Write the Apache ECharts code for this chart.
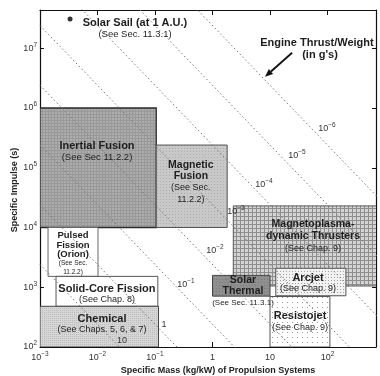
<!DOCTYPE html>
<html>
<head>
<meta charset="utf-8">
<title>Specific Impulse vs Specific Mass of Propulsion Systems</title>
<script src="https://cdn.jsdelivr.net/npm/echarts@6.0.0/dist/echarts.min.js"></script>
<style>
  html, body { margin: 0; padding: 0; background: #fff; }
  #chart { width: 380px; height: 376px; }
</style>
</head>
<body>
<div id="chart"></div>
<script>
// ---- Axis ranges and tick exponents ----
const massRange = [1e-3, 697];          // kg/kW
const ispRange = [1e2, 4.37e7];         // s
const massTickExponents = [-3, -2, -1, 0, 1, 2];
const ispTickExponents = [2, 3, 4, 5, 6, 7];

// ---- Propulsion system regions ----
const regionNames = ['Inertial Fusion', 'Magnetic Fusion', 'MPD Thrusters', 'Solar Thermal',
  'Arcjet', 'Resistojet', 'Pulsed Fission', 'Solid-Core Fission', 'Chemical'];
const regionMassLow  = [1e-3, 0.105, 2.3, 1.0, 12.6, 10, 1.38e-3, 1.9e-3, 1e-3];
const regionMassHigh = [0.105, 1.8, 1000, 10, 209, 110, 0.0102, 0.112, 0.115];
const regionIspLow   = [1e4, 1e4, 1050, 710, 720, 100, 1520, 480, 100];
const regionIspHigh  = [1e6, 2.4e5, 2.3e4, 1580, 2080, 700, 1e4, 1520, 480];

// ---- Solar sail point ----
const solarSail = [3.33e-3, 3.1e7];

// ---- Engine thrust/weight guide lines (g's): Isp at mass 1e-3 and at 1e3 kg/kW ----
const guideExponents = [1, 0, -1, -2, -3, -4, -5, -6];
const guideIspAtMassMin = [2.4e3, 2.4e4, 2.4e5, 2.4e6, 2.4e7, 2.4e8, 2.4e9, 2.4e10];
const guideIspAtMassMax = [2.4e-3, 2.4e-2, 2.4e-1, 2.4e0, 2.4e1, 2.4e2, 2.4e3, 2.4e4];
const guideLabelMass = [0.0267, 0.1436, 0.346, 1.10, 2.56, 7.87, 29.5, 97.7];
const guideLabelIsp  = [126, 234, 1095, 4050, 1.82e4, 5.17e4, 1.58e5, 4.47e5];

// ---- Arrow pointing at the thrust/weight lines ----
const arrowFrom = [24.2, 8.4e6];
const arrowTo = [8.18, 3.33e6];

// ---- Text annotations ----
const annoText = [
  'Solar Sail (at 1 A.U.)', '(See Sec. 11.3.1)',
  'Engine Thrust/Weight', "(in g's)",
  'Inertial Fusion', '(See Sec 11.2.2)',
  'Magnetic', 'Fusion', '(See Sec.', '11.2.2)',
  'Magnetoplasma-', 'dynamic Thrusters', '(See Chap. 9)',
  'Solar', 'Thermal', '(See Sec. 11.3.1)',
  'Arcjet', '(See Chap. 9)',
  'Resistojet', '(See Chap. 9)',
  'Pulsed', 'Fission', '(Orion)', '(See Sec.', '11.2.2)',
  'Solid-Core Fission', '(See Chap. 8)',
  'Chemical', '(See Chaps. 5, 6, & 7)'
];
const annoMass = [
  0.0449, 0.0449,
  65.6, 74,
  9.8e-3, 9.8e-3,
  0.42, 0.42, 0.42, 0.42,
  56, 56, 56,
  3.39, 3.39, 3.39,
  45.8, 45.8,
  33.3, 33.3,
  3.75e-3, 3.75e-3, 3.75e-3, 3.75e-3, 3.75e-3,
  0.0146, 0.0146,
  0.012, 0.012
];
const annoIsp = [
  2.67e7, 1.68e7,
  1.24e7, 7.8e6,
  2.33e5, 1.47e5,
  1.12e5, 7.3e4, 4.6e4, 2.9e4,
  1.15e4, 7230, 4380,
  1325, 867, 546,
  1430, 937,
  330, 216,
  7520, 5120, 3610, 2550, 1800,
  937, 613,
  294, 193
];
const annoKind = [
  'title', 'ref10',
  'title', 'title',
  'title', 'ref10',
  'name', 'name', 'ref', 'ref',
  'name', 'name', 'ref',
  'name', 'name', 'ref8',
  'title', 'ref',
  'title', 'ref',
  'small-bold', 'small-bold', 'small-bold', 'tiny', 'tiny',
  'title', 'ref',
  'title', 'ref'
];

// ---- Styling ----
const FONT = '"Liberation Sans", Arial, Helvetica, sans-serif';
const textFonts = {
  'title': 'bold 11px ' + FONT,
  'name': 'bold 10.5px ' + FONT,
  'small-bold': 'bold 9.5px ' + FONT,
  'ref': '9px ' + FONT,
  'ref10': '9.5px ' + FONT,
  'ref8': '8px ' + FONT,
  'tiny': '6.5px ' + FONT
};

function makePattern(size, bg, draw) {
  const c = document.createElement('canvas');
  c.width = size; c.height = size;
  const ctx = c.getContext('2d');
  ctx.fillStyle = bg;
  ctx.fillRect(0, 0, size, size);
  draw(ctx);
  return { image: c, repeat: 'repeat' };
}

const regionStyles = {
  'Inertial Fusion': { fill: makePattern(3, '#acacac', ctx => { ctx.fillStyle = '#999999'; ctx.fillRect(0, 0, 3, 1); ctx.fillRect(0, 0, 1, 3); }), stroke: '#2a2a2a', lineWidth: 1.3 },
  'Magnetic Fusion': { fill: makePattern(3, '#c8c8c8', ctx => { ctx.fillStyle = '#adadad'; ctx.fillRect(1, 1, 1, 1); }), stroke: '#555', lineWidth: 1 },
  'MPD Thrusters': { fill: makePattern(4, '#d4d4d4', ctx => { ctx.fillStyle = '#8e8e8e'; ctx.fillRect(0, 0, 4, 1); ctx.fillRect(0, 0, 1, 4); }), stroke: '#555', lineWidth: 1 },
  'Solar Thermal': { fill: makePattern(3, '#8f8f8f', ctx => { ctx.fillStyle = '#7a7a7a'; ctx.fillRect(0, 0, 1, 1); }), stroke: '#444', lineWidth: 1 },
  'Arcjet': { fill: makePattern(3, '#f2f2f2', ctx => { ctx.fillStyle = '#a0a0a0'; ctx.fillRect(1, 1, 1, 1); }), stroke: '#555', lineWidth: 1 },
  'Resistojet': { fill: makePattern(5, '#ffffff', ctx => { ctx.fillStyle = '#9a9a9a'; ctx.fillRect(2, 2, 1, 1); }), stroke: '#555', lineWidth: 1 },
  'Pulsed Fission': { fill: '#ffffff', stroke: '#666', lineWidth: 1 },
  'Solid-Core Fission': { fill: '#ffffff', stroke: '#555', lineWidth: 1 },
  'Chemical': { fill: makePattern(2, '#d6d6d6', ctx => { ctx.fillStyle = '#bcbcbc'; ctx.fillRect(0, 0, 1, 1); }), stroke: '#444', lineWidth: 1 }
};

function supText(e) {
  return e < 0 ? '\u2212' + (-e) : String(e);
}
function powerLabel(e) {
  if (e === 0) return '{b|1}';
  if (e === 1) return '{b|10}';
  return '{b|10}{s|' + supText(e) + '}';
}
function tickFormatter(allowed, plainSmall) {
  return function (v) {
    const lg = Math.log10(v);
    const e = Math.round(lg);
    if (Math.abs(lg - e) > 1e-6 || allowed.indexOf(e) < 0) return '';
    if (!plainSmall) return '{b|10}{s|' + supText(e) + '}';
    return powerLabel(e);
  };
}
const tickRich = {
  b: { fontSize: 9, fontFamily: FONT, color: '#333', lineHeight: 14 },
  s: { fontSize: 6.5, fontFamily: FONT, color: '#333', lineHeight: 7, verticalAlign: 'top' }
};

const axisLineStyle = { color: '#111', width: 1.2 };

// ---- Series ----
const series = [];

// regions
series.push({
  type: 'custom',
  name: 'regions',
  xAxisIndex: 0, yAxisIndex: 0,
  clip: true,
  silent: true,
  z: 2,
  data: regionNames.map((n, i) => [regionMassLow[i], regionIspLow[i], regionMassHigh[i], regionIspHigh[i]]),
  renderItem: function (params, api) {
    const i = params.dataIndex;
    const p0 = api.coord([api.value(0), api.value(3)]);
    const p1 = api.coord([api.value(2), api.value(1)]);
    const st = regionStyles[regionNames[i]];
    return {
      type: 'rect',
      shape: { x: p0[0], y: p0[1], width: p1[0] - p0[0], height: p1[1] - p0[1] },
      style: { fill: st.fill, stroke: st.stroke, lineWidth: st.lineWidth }
    };
  }
});

// thrust/weight guide lines
guideExponents.forEach((e, i) => {
  series.push({
    type: 'line',
    xAxisIndex: 0, yAxisIndex: 0,
    data: [[1e-3, guideIspAtMassMin[i]], [1e3, guideIspAtMassMax[i]]],
    symbol: 'none',
    silent: true,
    clip: true,
    z: 3,
    lineStyle: { color: '#777', width: 1, type: [1.5, 2.5] },
    animation: false
  });
});

// guide line labels
series.push({
  type: 'custom',
  xAxisIndex: 0, yAxisIndex: 0,
  silent: true,
  z: 5,
  data: guideExponents.map((e, i) => [guideLabelMass[i], guideLabelIsp[i]]),
  renderItem: function (params, api) {
    const p = api.coord([api.value(0), api.value(1)]);
    return {
      type: 'text', x: p[0], y: p[1],
      style: {
        text: powerLabel(guideExponents[params.dataIndex]),
        align: 'center', verticalAlign: 'middle',
        rich: {
          b: { fontSize: 9, fontFamily: FONT, fill: '#333', lineHeight: 14 },
          s: { fontSize: 6.5, fontFamily: FONT, fill: '#333', lineHeight: 7, verticalAlign: 'top' }
        }
      }
    };
  }
});

// solar sail point
series.push({
  type: 'scatter',
  xAxisIndex: 0, yAxisIndex: 0,
  data: [solarSail],
  symbol: 'circle',
  symbolSize: 5,
  itemStyle: { color: '#000' },
  silent: true,
  z: 6
});

// text annotations
series.push({
  type: 'custom',
  xAxisIndex: 0, yAxisIndex: 0,
  silent: true,
  z: 6,
  data: annoText.map((t, i) => [annoMass[i], annoIsp[i]]),
  renderItem: function (params, api) {
    const i = params.dataIndex;
    const p = api.coord([api.value(0), api.value(1)]);
    return {
      type: 'text', x: p[0], y: p[1],
      style: {
        text: annoText[i],
        font: textFonts[annoKind[i]],
        fill: '#1e1e1e',
        align: 'center', verticalAlign: 'middle'
      }
    };
  }
});

// arrow
series.push({
  type: 'custom',
  xAxisIndex: 0, yAxisIndex: 0,
  silent: true,
  z: 6,
  data: [[arrowFrom[0], arrowFrom[1], arrowTo[0], arrowTo[1]]],
  renderItem: function (params, api) {
    const a = api.coord([api.value(0), api.value(1)]);
    const b = api.coord([api.value(2), api.value(3)]);
    const ang = Math.atan2(b[1] - a[1], b[0] - a[0]);
    const len = 8, half = 3.2;
    const bx = b[0] - len * Math.cos(ang), by = b[1] - len * Math.sin(ang);
    const nx = -Math.sin(ang) * half, ny = Math.cos(ang) * half;
    return {
      type: 'group',
      children: [
        { type: 'line', shape: { x1: a[0], y1: a[1], x2: bx, y2: by }, style: { stroke: '#111', lineWidth: 1.8 } },
        { type: 'polygon', shape: { points: [[b[0], b[1]], [bx + nx, by + ny], [bx - nx, by - ny]] }, style: { fill: '#111' } }
      ]
    };
  }
});

const option = {
  animation: false,
  backgroundColor: '#ffffff',
  grid: { left: 40, right: 4, top: 10, bottom: 29, containLabel: false },
  xAxis: [
    {
      type: 'log', logBase: 10, min: massRange[0], max: massRange[1], position: 'bottom', splitNumber: 6,
      axisLine: { show: true, lineStyle: axisLineStyle },
      axisTick: { show: true, inside: true, length: 5, lineStyle: { color: '#111', width: 1 } },
      axisLabel: { margin: 4, formatter: tickFormatter(massTickExponents, true), rich: tickRich, hideOverlap: false },
      splitLine: { show: false }, minorTick: { show: false }
    },
    {
      type: 'log', logBase: 10, min: massRange[0], max: massRange[1], position: 'top', splitNumber: 6,
      axisLine: { show: true, lineStyle: axisLineStyle },
      axisTick: { show: true, inside: true, length: 5, lineStyle: { color: '#111', width: 1 } },
      axisLabel: { show: false },
      splitLine: { show: false }
    }
  ],
  yAxis: [
    {
      type: 'log', logBase: 10, min: ispRange[0], max: ispRange[1], position: 'left', splitNumber: 6,
      axisLine: { show: true, lineStyle: axisLineStyle },
      axisTick: { show: true, inside: true, length: 4, lineStyle: { color: '#111', width: 1 } },
      axisLabel: { margin: 3, formatter: tickFormatter(ispTickExponents, false), rich: tickRich, hideOverlap: false },
      splitLine: { show: false }
    },
    {
      type: 'log', logBase: 10, min: ispRange[0], max: ispRange[1], position: 'right', splitNumber: 6,
      axisLine: { show: true, lineStyle: axisLineStyle },
      axisTick: { show: true, inside: true, length: 4, lineStyle: { color: '#111', width: 1 } },
      axisLabel: { show: false },
      splitLine: { show: false }
    }
  ],
  graphic: [
    {
      type: 'text', x: 218, y: 371,
      style: { text: 'Specific Mass (kg/kW) of Propulsion Systems', font: 'bold 9px ' + FONT, fill: '#222', align: 'center', verticalAlign: 'middle' }
    },
    {
      type: 'text', x: 15, y: 190, rotation: Math.PI / 2,
      style: { text: 'Specific Impulse (s)', font: 'bold 9px ' + FONT, fill: '#222', align: 'center', verticalAlign: 'middle' }
    }
  ],
  series: series
};

const chart = echarts.init(document.getElementById('chart'), null, { renderer: 'canvas' });
chart.setOption(option);
</script>
</body>
</html>
